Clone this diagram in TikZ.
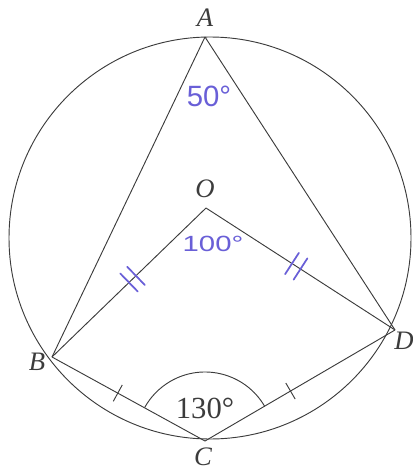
\documentclass[tikz,border=0pt]{standalone}
\usepackage{fontspec}
\setmainfont{Liberation Serif}
\newfontfamily\handfont{Liberation Sans}
\usetikzlibrary{calc}
\definecolor{ink}{RGB}{60,60,60}
\definecolor{hand}{RGB}{105,95,215}
\tikzset{
 edge/.style={draw=ink, line width=0.7pt},
 ptlabel/.style={font=\fontsize{20}{20}\selectfont\itshape, text=ink, inner sep=0pt},
 anglabel/.style={font=\fontsize{23}{23}\selectfont, text=ink, inner sep=0pt},
 handtext/.style={font=\handfont\fontsize{22}{22}\selectfont, text=hand, inner sep=0pt},
 handtick/.style={draw=hand, line width=1.3pt, line cap=round},
 tickmark/.style={draw=ink, line width=0.7pt},
}
\begin{document}
\begin{tikzpicture}[x=0.75pt,y=-0.75pt]
\useasboundingbox (0,0) rectangle (413,474);
% points
\coordinate (A) at (205,37);
\coordinate (B) at (52,357);
\coordinate (C) at (205,441);
\coordinate (D) at (395,330);
\coordinate (O) at (206,208);
\coordinate (Ctr) at (210,238);
% circle
\draw[edge] (Ctr) circle[radius=201];
% segments
\draw[edge] (A) -- (B);
\draw[edge] (A) -- (D);
\draw[edge] (O) -- (B);
\draw[edge] (O) -- (D);
\draw[edge] (B) -- (C);
\draw[edge] (C) -- (D);
% angle arc at C
\draw[edge] ($(C)+(-30:69)$) arc[start angle=-30, end angle=-151, radius=69];
% labels
\node[ptlabel] (lA) at (205,18) {A};
\node[ptlabel] (lO) at (205,189) {O};
\node[ptlabel] (lB) at (37,362) {B};
\node[ptlabel] (lD) at (404,341) {D};
\node[ptlabel] (lC) at (203,457) {C};
\node[anglabel] (a130) at (205,408) {130°};
\node[handtext] (a50) at (209,96) {50°};
\node[handtext, yscale=0.75, transform shape] (a100) at (213,244) {100°};
% double ticks on OB and OD (blue)
\coordinate (m1) at ($(O)!0.455!(B)$);
\coordinate (m2) at ($(O)!0.50!(B)$);
\draw[handtick] ($(m1)!9.5pt!90:(B)$) -- ($(m1)!9.5pt!-90:(B)$);
\draw[handtick] ($(m2)!9.5pt!90:(B)$) -- ($(m2)!9.5pt!-90:(B)$);
\coordinate (n1) at ($(O)!0.455!(D)$);
\coordinate (n2) at ($(O)!0.50!(D)$);
\draw[handtick] ($(n1)!9.5pt!90:(D)$) -- ($(n1)!9.5pt!-90:(D)$);
\draw[handtick] ($(n2)!9.5pt!90:(D)$) -- ($(n2)!9.5pt!-90:(D)$);
% single ticks on BC and CD
\coordinate (p1) at ($(B)!0.43!(C)$);
\draw[tickmark] ($(p1)!7pt!90:(C)$) -- ($(p1)!7pt!-90:(C)$);
\coordinate (q1) at ($(C)!0.45!(D)$);
\draw[tickmark] ($(q1)!7pt!90:(D)$) -- ($(q1)!7pt!-90:(D)$);
\end{tikzpicture}
\end{document}
